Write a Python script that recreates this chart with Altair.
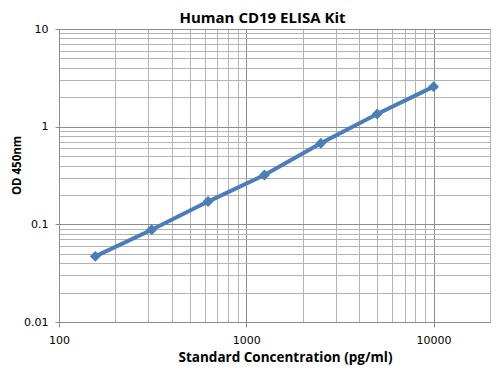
import altair as alt
import pandas as pd

concentration = [156.25, 312.5, 625, 1250, 2500, 5000, 10000]
od450 = [0.047, 0.088, 0.171, 0.32, 0.676, 1.35, 2.57]

x_ticks = [v * m for v in (100, 1000, 10000) for m in range(1, 10) if v * m <= 20000] + [20000]
y_ticks = [v * m for v in (0.01, 0.1, 1) for m in range(1, 10)] + [10]
x_major = [100, 1000, 10000]
y_major = [0.01, 0.1, 1, 10]

df = pd.DataFrame({"conc": concentration, "od": od450})

major_x_test = "indexof([100,1000,10000], datum.value) >= 0"
major_y_test = "abs(log(datum.value)/log(10) - round(log(datum.value)/log(10))) < 0.001"

x_axis = alt.Axis(
    values=x_ticks,
    labelExpr=f"{major_x_test} ? format(datum.value, 'd') : ''",
    grid=True,
    gridColor={"condition": {"test": major_x_test, "value": "#8c8c8c"}, "value": "#b4b4b4"},
    gridWidth=1,
    tickOpacity={"condition": {"test": major_x_test, "value": 1}, "value": 0},
    tickColor="#8c8c8c",
    tickSize=5,
    domainColor="#8c8c8c",
    labelFont="DejaVu Sans",
    labelFontSize=11,
    labelColor="#000000",
    labelPadding=7,
    labelFlush=False,
    labelOverlap=False,
    title="Standard Concentration (pg/ml)",
    titleFont="Open Sans",
    titleFontSize=13.5,
    titleFontWeight="bold",
    titleColor="#000000",
    titleX=226,
    titleY=35,
    titleBaseline="middle",
    titleAlign="center",
)

y_axis = alt.Axis(
    values=y_ticks,
    labelExpr=f"{major_y_test} ? format(datum.value, '~g') : ''",
    grid=True,
    gridColor={"condition": {"test": major_y_test, "value": "#8c8c8c"}, "value": "#b4b4b4"},
    gridWidth=1,
    tickOpacity={"condition": {"test": major_y_test, "value": 1}, "value": 0},
    tickColor="#8c8c8c",
    tickSize=4,
    domainColor="#8c8c8c",
    labelFont="DejaVu Sans",
    labelFontSize=11,
    labelColor="#000000",
    labelPadding=7,
    labelFlush=False,
    labelOverlap=False,
    title="OD 450nm",
    titleFont="Open Sans",
    titleFontSize=11.5,
    titleFontWeight="bold",
    titleColor="#000000",
    titleAngle=-90,
    titleX=-42,
    titleY=136,
    titleBaseline="middle",
    titleAlign="center",
)

x_enc = alt.X("conc:Q", scale=alt.Scale(type="log", domain=[100, 20000], nice=False), axis=x_axis)
y_enc = alt.Y("od:Q", scale=alt.Scale(type="log", domain=[0.01, 10], nice=False), axis=y_axis)

line = alt.Chart(df).mark_line(color="#4a7ebb", strokeWidth=4).encode(x=x_enc, y=y_enc)
points = alt.Chart(df).mark_point(
    shape="diamond", filled=True, color="#4a7ebb", size=120, opacity=1
).encode(x=x_enc, y=y_enc)

chart = (
    alt.layer(line, points)
    .properties(
        width=431,
        height=293,
        autosize=alt.AutoSizeParams(type="none"),
        padding={"left": 51, "top": 21, "right": 1, "bottom": 43},
        title=alt.TitleParams(
            "Human CD19 ELISA Kit",
            font="Open Sans",
            fontSize=15,
            fontWeight="bold",
            color="#000000",
            anchor="middle",
            dx=-12,
            offset=-3,
        ),
        background="white",
    )
    .configure_view(stroke="#8c8c8c", strokeWidth=1)
)

chart.save("out.html", embed_options={"renderer": "svg", "actions": False})
